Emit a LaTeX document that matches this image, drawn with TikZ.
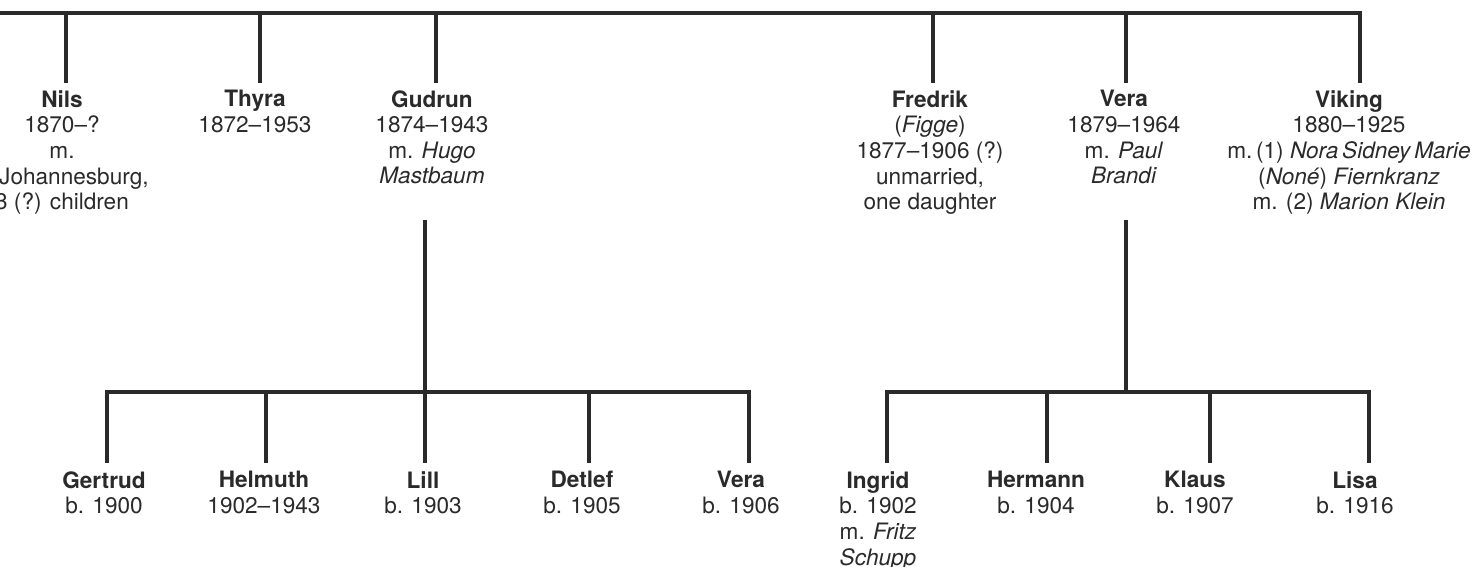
\documentclass[tikz,border=0pt]{standalone}
\usepackage{fontspec}
\setmainfont{TeX Gyre Heros}
\definecolor{ink}{HTML}{2A2A2A}
\begin{document}
\begin{tikzpicture}[x=0.5pt,y=-0.5pt,
  link/.style={draw=ink,line width=2.3pt,line join=miter},
  person/.style={anchor=north,inner sep=0pt,align=center,text=ink,
    font=\fontsize{11.3}{12.8}\selectfont},
]
\useasboundingbox (0,0) rectangle (1474,567);
% ---- generation 1 ----
\node[person] (nils) at (62,90) {\textbf{Nils}\\1870–?\\m.\\\phantom{in }Johannesburg,\\3 (?) children};
\node[person] (thyra) at (255,90) {\textbf{Thyra}\\1872–1953};
\node[person] (gudrun) at (432,90) {\textbf{Gudrun}\\1874–1943\\m. \textit{Hugo}\\\textit{Mastbaum}};
\node[person] (fredrik) at (930,90) {\textbf{Fredrik}\\(\textit{Figge})\\1877–1906 (?)\\unmarried,\\one daughter};
\node[person] (vera) at (1124,90) {\textbf{Vera}\\1879–1964\\m. \textit{Paul}\\\textit{Brandi}};
\node[person] (viking) at (1349,90) {\textbf{Viking}\\1880–1925\\m.\,(1) \textit{Nora\,Sidney\,Marie}\\(\textit{Noné}) \textit{Fiernkranz}\\m. (2) \textit{Marion Klein}};
% ---- generation 2 ----
\node[person] (gertrud) at (104,471) {\textbf{Gertrud}\\b. 1900};
\node[person] (helmuth) at (264,471) {\textbf{Helmuth}\\1902–1943};
\node[person] (lill) at (423,471) {\textbf{Lill}\\b. 1903};
\node[person] (detlef) at (582,471) {\textbf{Detlef}\\b. 1905};
\node[person] (vera2) at (741,471) {\textbf{Vera}\\b. 1906};
\node[person] (ingrid) at (878,471) {\textbf{Ingrid}\\b. 1902\\m. \textit{Fritz}\\\textit{Schupp}};
\node[person] (hermann) at (1036,471) {\textbf{Hermann}\\b. 1904};
\node[person] (klaus) at (1195,471) {\textbf{Klaus}\\b. 1907};
\node[person] (lisa) at (1355,471) {\textbf{Lisa}\\b. 1916};
% ---- connector points ----
\coordinate (barL) at (-20,13);
\coordinate (nilsT) at (66,13);     \coordinate (nilsB) at (66,83);
\coordinate (thyraT) at (260,13);   \coordinate (thyraB) at (260,83);
\coordinate (gudrunT) at (436,13);  \coordinate (gudrunB) at (436,83);
\coordinate (fredrikT) at (933,13); \coordinate (fredrikB) at (933,83);
\coordinate (veraT) at (1126,13);   \coordinate (veraB) at (1126,83);
\coordinate (vikingT) at (1360,13); \coordinate (vikingB) at (1360,83);
\coordinate (gudrunD) at (425,220); \coordinate (lillB) at (425,463);
\coordinate (gertrudB) at (107,463); \coordinate (gertrudT) at (107,392);
\coordinate (helmuthT) at (266,392); \coordinate (helmuthB) at (266,463);
\coordinate (detlefT) at (589,392);  \coordinate (detlefB) at (589,463);
\coordinate (vera2T) at (749,392);   \coordinate (vera2B) at (749,463);
\coordinate (veraD) at (1126,220);   \coordinate (veraJ) at (1126,392);
\coordinate (ingridB) at (887,463);  \coordinate (ingridT) at (887,392);
\coordinate (hermannT) at (1047,392); \coordinate (hermannB) at (1047,463);
\coordinate (klausT) at (1210,392);  \coordinate (klausB) at (1210,463);
\coordinate (lisaT) at (1369,392);   \coordinate (lisaB) at (1369,463);
% ---- connectors ----
\draw[link] (barL) -- (vikingT) -- (vikingB);
\draw[link] (nilsT) -- (nilsB);
\draw[link] (thyraT) -- (thyraB);
\draw[link] (gudrunT) -- (gudrunB);
\draw[link] (fredrikT) -- (fredrikB);
\draw[link] (veraT) -- (veraB);
\draw[link] (gudrunD) -- (lillB);
\draw[link] (gertrudB) -- (gertrudT) -- (vera2T) -- (vera2B);
\draw[link] (helmuthT) -- (helmuthB);
\draw[link] (detlefT) -- (detlefB);
\draw[link] (veraD) -- (veraJ);
\draw[link] (ingridB) -- (ingridT) -- (lisaT) -- (lisaB);
\draw[link] (hermannT) -- (hermannB);
\draw[link] (klausT) -- (klausB);
\end{tikzpicture}
\end{document}
